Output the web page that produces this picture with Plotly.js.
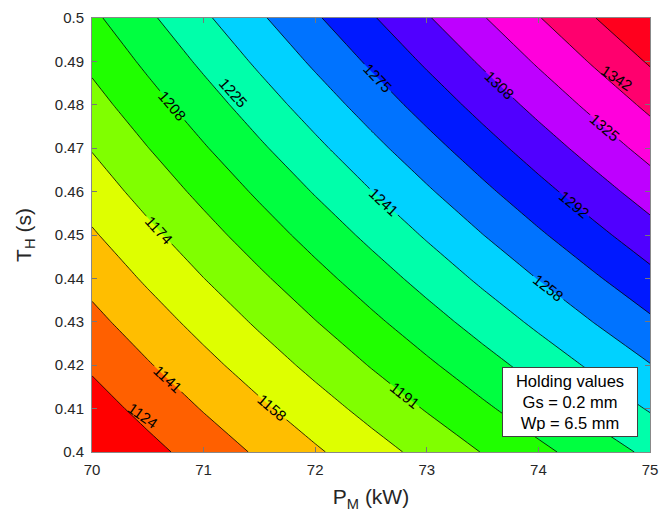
<!DOCTYPE html>
<html>
<head>
<meta charset="utf-8">
<script src="https://cdn.plot.ly/plotly-3.0.1.min.js"></script>
<style>
  html, body { margin: 0; padding: 0; background: #ffffff; }
  #chart { width: 662px; height: 517px; }
</style>
</head>
<body>
<div id="chart"></div>
<script>
// Motor power P_M (kW) grid
const powerKW = [70, 70.5, 71, 71.5, 72, 72.5, 73, 73.5, 74, 74.5, 75];
// Holding time T_H (s) grid
const holdTime = [0.40, 0.41, 0.42, 0.43, 0.44, 0.45, 0.46, 0.47, 0.48, 0.49, 0.50];
// Response values (rows follow holdTime, columns follow powerKW)
const respRow040 = [1107.0, 1119.1, 1131.2, 1143.3, 1155.4, 1167.5, 1179.6, 1191.7, 1203.8, 1215.9, 1228.0];
const respRow041 = [1116.8, 1129.3, 1141.9, 1154.5, 1167.1, 1179.7, 1192.3, 1204.9, 1217.5, 1230.1, 1242.7];
const respRow042 = [1126.5, 1139.6, 1152.7, 1165.8, 1178.9, 1192.0, 1205.0, 1218.1, 1231.2, 1244.3, 1257.4];
const respRow043 = [1136.3, 1149.8, 1163.4, 1177.0, 1190.6, 1204.2, 1217.8, 1231.4, 1244.9, 1258.5, 1272.1];
const respRow044 = [1146.0, 1160.1, 1174.2, 1188.2, 1202.3, 1216.4, 1230.5, 1244.6, 1258.6, 1272.7, 1286.8];
const respRow045 = [1155.8, 1170.3, 1184.9, 1199.5, 1214.1, 1228.6, 1243.2, 1257.8, 1272.4, 1286.9, 1301.5];
const respRow046 = [1165.5, 1180.6, 1195.6, 1210.7, 1225.8, 1240.9, 1255.9, 1271.0, 1286.1, 1301.1, 1316.2];
const respRow047 = [1175.3, 1190.8, 1206.4, 1222.0, 1237.5, 1253.1, 1268.6, 1284.2, 1299.8, 1315.3, 1330.9];
const respRow048 = [1185.0, 1201.1, 1217.1, 1233.2, 1249.2, 1265.3, 1281.4, 1297.4, 1313.5, 1329.5, 1345.6];
const respRow049 = [1194.8, 1211.3, 1227.9, 1244.4, 1261.0, 1277.5, 1294.1, 1310.6, 1327.2, 1343.8, 1360.3];
const respRow050 = [1204.5, 1221.6, 1238.6, 1255.7, 1272.7, 1289.8, 1306.8, 1323.9, 1340.9, 1358.0, 1375.0];
const respGrid = [respRow040, respRow041, respRow042, respRow043, respRow044, respRow045,
                  respRow046, respRow047, respRow048, respRow049, respRow050];

// Contour level settings (labels 1124 ... 1359)
const levelStart = 1124.15;
const levelStep = 16.74;
const levelCount = 15;

// Band colours, lowest band first
const bandColors = [
  'rgb(255,0,0)', 'rgb(255,96,0)', 'rgb(255,190,0)', 'rgb(222,255,0)',
  'rgb(128,255,0)', 'rgb(32,255,0)', 'rgb(0,255,64)', 'rgb(0,255,170)',
  'rgb(0,210,255)', 'rgb(0,115,255)', 'rgb(0,25,255)', 'rgb(80,0,255)',
  'rgb(190,0,255)', 'rgb(255,0,220)', 'rgb(255,0,110)', 'rgb(255,0,30)'
];

// extra contour labels that the automatic placement leaves out
const extraLabelText = ['1124', '1225', '1342'];
const extraLabelX = [70.457, 71.266, 74.697];
const extraLabelY = [0.4085, 0.4829, 0.4862];
const extraLabelAngle = [35, 48, 33];

const xTickVals = [70, 71, 72, 73, 74, 75];
const xTickText = ['70', '71', '72', '73', '74', '75'];
const yTickVals = [0.40, 0.41, 0.42, 0.43, 0.44, 0.45, 0.46, 0.47, 0.48, 0.49, 0.50];
const yTickText = ['0.4', '0.41', '0.42', '0.43', '0.44', '0.45', '0.46', '0.47', '0.48', '0.49', '0.5'];

const noteLines = ['Holding values', 'Gs = 0.2 mm', 'Wp = 6.5 mm'];

// stepped colorscale: band i is centred at i/(n-1)
const nb = bandColors.length;
const colorscale = [];
for (let i = 0; i < nb; i++) {
  const lo = i === 0 ? 0 : (i - 0.5) / (nb - 1);
  const hi = i === nb - 1 ? 1 : (i + 0.5) / (nb - 1);
  colorscale.push([lo, bandColors[i]]);
  colorscale.push([hi, bandColors[i]]);
}

const FONT = 'Liberation Sans, Arial, Helvetica, sans-serif';
const AXC = '#262626';
const LABEL_SIZE = 15;

const trace = {
  type: 'contour',
  x: powerKW,
  y: holdTime,
  z: respGrid,
  colorscale: colorscale,
  showscale: false,
  autocontour: false,
  contours: {
    start: levelStart,
    end: levelStart + (levelCount - 1) * levelStep,
    size: levelStep,
    coloring: 'fill',
    showlines: true,
    showlabels: true,
    labelformat: '.0f',
    labelfont: { family: FONT, size: LABEL_SIZE, color: '#000000' }
  },
  line: { color: '#000000', width: 0.8, smoothing: 0 },
  hoverinfo: 'skip'
};

const annotations = extraLabelText.map((t, i) => ({
  xref: 'x', yref: 'y',
  x: extraLabelX[i], y: extraLabelY[i],
  text: t,
  showarrow: false,
  textangle: extraLabelAngle[i],
  font: { family: FONT, size: LABEL_SIZE, color: '#000000' },
  borderpad: 0
}));

annotations.push({
  xref: 'paper', yref: 'paper',
  x: 0.9785, y: 0.035,
  xanchor: 'right', yanchor: 'bottom',
  text: noteLines.join('<br>'),
  showarrow: false,
  align: 'center',
  width: 124,
  height: 58,
  font: { family: FONT, size: 16.5, color: '#000000' },
  bgcolor: '#ffffff',
  bordercolor: '#404040',
  borderwidth: 1,
  borderpad: 5
});

const layout = {
  width: 662,
  height: 517,
  margin: { l: 92, r: 12, t: 18, b: 65 },
  paper_bgcolor: '#ffffff',
  plot_bgcolor: '#ffffff',
  showlegend: false,
  font: { family: FONT, color: AXC },
  xaxis: {
    range: [70, 75],
    tickvals: xTickVals,
    ticktext: xTickText,
    ticks: 'inside',
    ticklen: 5,
    tickcolor: '#777777',
    tickfont: { family: FONT, size: 15, color: AXC },
    showline: true,
    linecolor: '#888888',
    linewidth: 1,
    mirror: 'ticks',
    showgrid: false,
    zeroline: false,
    automargin: false,
    ticklabelstandoff: 4,
    title: { text: 'P<sub>M</sub> (kW)', font: { family: FONT, size: 21, color: AXC }, standoff: 12 }
  },
  yaxis: {
    range: [0.4, 0.5],
    tickvals: yTickVals,
    ticktext: yTickText,
    ticks: 'inside',
    ticklen: 5,
    tickcolor: '#777777',
    tickfont: { family: FONT, size: 15, color: AXC },
    showline: true,
    linecolor: '#888888',
    linewidth: 1,
    mirror: 'ticks',
    showgrid: false,
    zeroline: false,
    automargin: false,
    ticklabelstandoff: 4,
    title: { text: 'T<sub>H</sub> (s)', font: { family: FONT, size: 21, color: AXC }, standoff: 17 }
  },
  annotations: annotations
};

Plotly.newPlot('chart', [trace], layout, { displayModeBar: false, staticPlot: true });
</script>
</body>
</html>
